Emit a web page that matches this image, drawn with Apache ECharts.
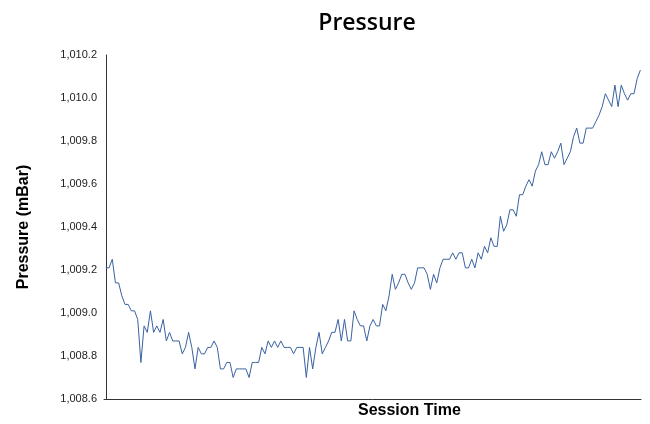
<!DOCTYPE html>
<html><head><meta charset="utf-8">
<script src="https://cdn.jsdelivr.net/npm/echarts@6/dist/echarts.min.js"></script>
<style>html,body{margin:0;padding:0;background:#fff}#c{width:650px;height:424px}</style>
</head><body><div id="c"></div>
<script>
const title = 'Pressure';
const xAxisTitle = 'Session Time';
const yAxisTitle = 'Pressure (mBar)';
const yTicks = [1008.6, 1008.8, 1009.0, 1009.2, 1009.4, 1009.6, 1009.8, 1010.0, 1010.2];
const pressure = [
1009.21,1009.21,1009.25,1009.14,1009.14,1009.08,1009.04,1009.04,1009.01,1009.01,
1008.97,1008.77,1008.94,1008.91,1009.01,1008.91,1008.94,1008.91,1008.97,1008.87,
1008.91,1008.87,1008.87,1008.87,1008.81,1008.84,1008.91,1008.84,1008.74,1008.84,
1008.81,1008.81,1008.84,1008.84,1008.87,1008.84,1008.74,1008.74,1008.77,1008.77,
1008.70,1008.74,1008.74,1008.74,1008.74,1008.70,1008.77,1008.77,1008.77,1008.84,
1008.81,1008.87,1008.84,1008.87,1008.84,1008.87,1008.84,1008.84,1008.84,1008.81,
1008.84,1008.84,1008.84,1008.70,1008.84,1008.74,1008.84,1008.91,1008.81,1008.84,
1008.87,1008.91,1008.91,1008.97,1008.87,1008.97,1008.87,1008.87,1009.01,1008.97,
1008.94,1008.94,1008.87,1008.94,1008.97,1008.94,1008.94,1009.04,1009.01,1009.08,
1009.18,1009.11,1009.14,1009.18,1009.18,1009.14,1009.11,1009.14,1009.21,1009.21,
1009.21,1009.18,1009.11,1009.18,1009.14,1009.21,1009.25,1009.25,1009.25,1009.28,
1009.25,1009.28,1009.28,1009.21,1009.21,1009.25,1009.21,1009.28,1009.25,1009.31,
1009.28,1009.35,1009.31,1009.31,1009.45,1009.38,1009.41,1009.48,1009.48,1009.45,
1009.55,1009.55,1009.59,1009.62,1009.59,1009.66,1009.69,1009.75,1009.69,1009.69,
1009.75,1009.72,1009.75,1009.79,1009.69,1009.72,1009.75,1009.82,1009.86,1009.79,
1009.79,1009.86,1009.86,1009.86,1009.89,1009.92,1009.96,1010.02,1009.99,1009.96,
1010.06,1009.96,1010.06,1010.02,1009.99,1010.02,1010.02,1010.09,1010.13
];
function fmt(v){
  const s = v.toFixed(1);
  const parts = s.split('.');
  return parts[0].replace(/\B(?=(\d{3})+(?!\d))/g, ',') + '.' + parts[1];
}
const chart = echarts.init(document.getElementById('c'), null, {renderer:'canvas'});
chart.setOption({
  animation:false,
  backgroundColor:'#fff',
  title:{text:title,left:362,top:7,textAlign:'center',
    textStyle:{fontFamily:'Open Sans',fontWeight:600,fontSize:23,color:'#000'}},
  grid:{left:104,right:9,top:55,bottom:25},
  xAxis:{type:'value',min:-0.6,max:pressure.length-0.8,
    axisLine:{lineStyle:{color:'#333',width:1}},axisTick:{show:false},
    axisLabel:{show:false},splitLine:{show:false}},
  yAxis:{type:'value',min:yTicks[0],max:yTicks[yTicks.length-1],interval:0.2,
    name:yAxisTitle,nameLocation:'middle',nameGap:72,
    nameTextStyle:{fontFamily:'Liberation Sans',fontWeight:'bold',fontSize:16,color:'#000'},
    axisLine:{show:true,lineStyle:{color:'#333',width:1}},axisTick:{show:false},
    axisLabel:{formatter:fmt,fontFamily:'Liberation Sans',fontSize:11,color:'#222',margin:7},
    splitLine:{show:false}},
  graphic:[{type:'text',left:358,top:403,style:{text:xAxisTitle,
    font:'bold 16px "Liberation Sans"',fill:'#000',textAlign:'center'}}],
  series:[{type:'line',data:pressure.map((v,i)=>[i,v]),showSymbol:false,
    lineStyle:{color:'#3a62a0',width:1},itemStyle:{color:'#3a62a0'}}]
});
</script></body></html>
